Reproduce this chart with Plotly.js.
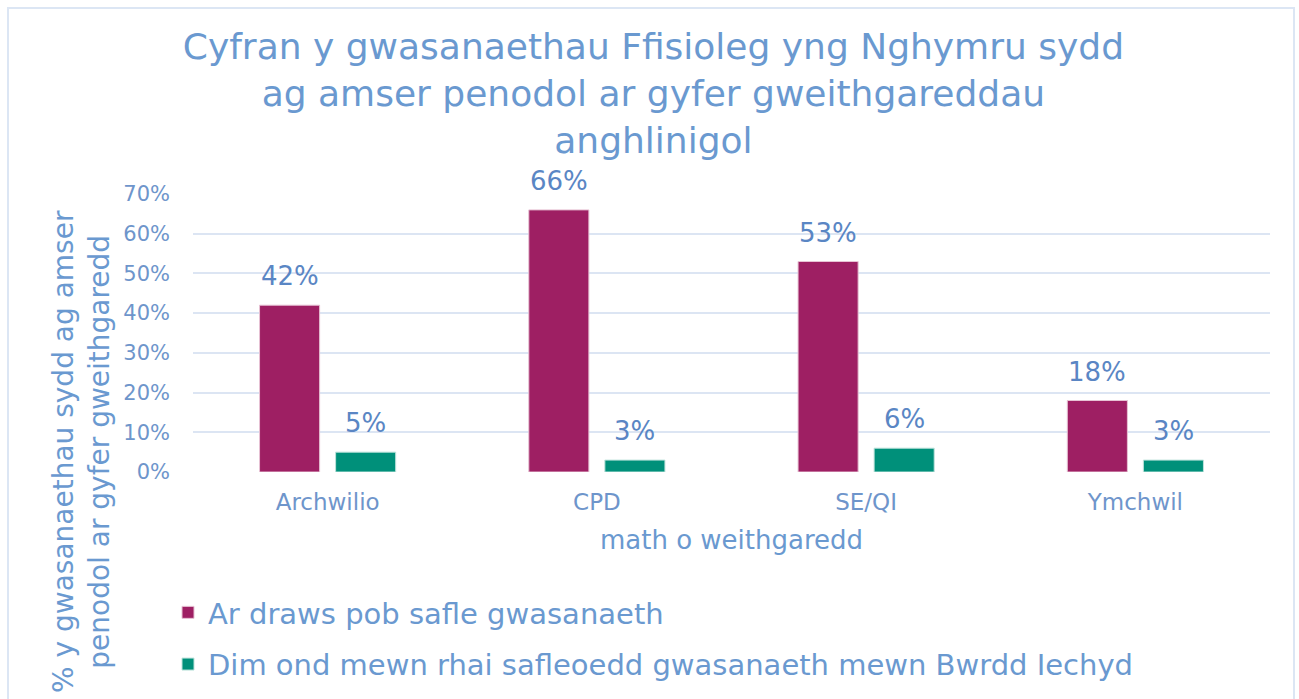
<!DOCTYPE html>
<html>
<head>
<meta charset="utf-8">
<script src="https://cdn.plot.ly/plotly-3.0.1.min.js"></script>
<style>
html, body { margin: 0; padding: 0; background: #ffffff; }
#chart { width: 1299px; height: 699px; position: absolute; left: 0; top: 0; }
#frame { position: absolute; left: 7px; top: 7px; width: 1284px; height: 720px; border: 2px solid #DCE6F4; pointer-events: none; }
</style>
</head>
<body>
<div id="chart"></div>
<div id="frame"></div>
<script>
const categories = ["Archwilio", "CPD", "SE/QI", "Ymchwil"];
const seriesNames = ["Ar draws pob safle gwasanaeth", "Dim ond mewn rhai safleoedd gwasanaeth mewn Bwrdd Iechyd"];
const acrossAll = [42, 66, 53, 18];
const someSites = [5, 3, 6, 3];
const yTickVals = [0, 10, 20, 30, 40, 50, 60, 70];
const yTickText = ["0%", "10%", "20%", "30%", "40%", "50%", "60%", "70%"];
const chartTitle = "Cyfran y gwasanaethau Ffisioleg yng Nghymru sydd<br>ag amser penodol ar gyfer gweithgareddau<br>anghlinigol";
const xTitle = "math o weithgaredd";
const yTitle = "% y gwasanaethau sydd ag amser<br>penodol ar gyfer gweithgaredd";

const FONT = "'DejaVu Sans', sans-serif";
const titleBlue = "#6A99D0";
const labelBlue = "#5A86C4";
const tickBlue = "#6E95CB";

const traces = [
  {
    type: "bar", name: seriesNames[0], x: categories, y: acrossAll,
    marker: { color: "#9E1F63", line: { color: "#E7C3D4", width: 1 } },
    legendgroup: "a", hoverinfo: "skip"
  },
  {
    type: "bar", name: seriesNames[1], x: categories, y: someSites,
    marker: { color: "#00907A", line: { color: "#BFE3DC", width: 1 } },
    legendgroup: "b", hoverinfo: "skip"
  }
];

const annotations = [];
[acrossAll, someSites].forEach((vals, si) => {
  vals.forEach((v, i) => {
    annotations.push({
      x: categories[i], y: v, xref: "x", yref: "y",
      text: v + "%", showarrow: false,
      xanchor: "center", yanchor: "bottom",
      xshift: si === 0 ? -38 : 38, yshift: 12,
      font: { family: FONT, size: 26, color: labelBlue }
    });
  });
});
// y-axis title placed in paper coordinates (left of the plot area)
annotations.push({
  text: yTitle, showarrow: false, textangle: -90,
  xref: "paper", yref: "paper",
  x: (81 - 193) / 1077, y: (472 - 452) / 278, xanchor: "center", yanchor: "middle",
  align: "center",
  font: { family: FONT, size: 28, color: titleBlue }
});

const layout = {
  width: 1299, height: 699,
  paper_bgcolor: "#ffffff", plot_bgcolor: "#ffffff",
  margin: { l: 193, r: 29, t: 194, b: 227, autoexpand: false },
  font: { family: FONT, color: titleBlue },
  title: {
    text: chartTitle,
    font: { family: FONT, size: 36, color: titleBlue },
    x: 0.503, xref: "container", xanchor: "center",
    y: 1 - 59 / 699, yref: "container", yanchor: "top"
  },
  barmode: "group",
  bargap: 0.435,
  bargroupgap: 0.21,
  xaxis: {
    type: "category", automargin: false,
    tickfont: { family: FONT, size: 23, color: tickBlue },
    showgrid: false, zeroline: false, showline: false, ticks: "",
    ticklabelstandoff: 14,
    title: { text: xTitle, font: { family: FONT, size: 26, color: titleBlue }, standoff: 16 }
  },
  yaxis: {
    range: [0, 70], automargin: false,
    tickvals: yTickVals, ticktext: yTickText,
    tickfont: { family: FONT, size: 21, color: tickBlue },
    showgrid: true, gridcolor: "#DCE5F3", gridwidth: 2,
    zeroline: false, showline: false, ticks: "",
    ticklabelstandoff: 22
  },
  showlegend: true,
  legend: {
    xref: "container", yref: "container",
    x: 168 / 1299, xanchor: "left",
    y: 1 - 587 / 699, yanchor: "top",
    orientation: "v",
    traceorder: "grouped",
    tracegroupgap: 11,
    font: { family: FONT, size: 29, color: titleBlue },
    bgcolor: "rgba(0,0,0,0)"
  },
  annotations: annotations
};

Plotly.newPlot("chart", traces, layout, { displayModeBar: false, staticPlot: true });
</script>
</body>
</html>
